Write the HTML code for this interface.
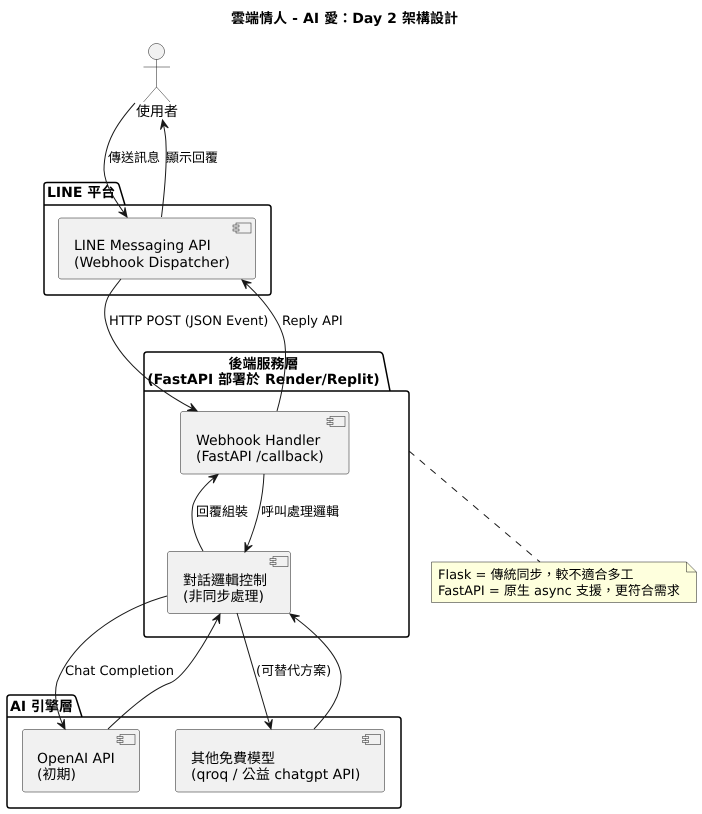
<!DOCTYPE html>
<html><head><meta charset="utf-8">
<style>
html,body{margin:0;padding:0;background:#fff;width:702px;height:814px;overflow:hidden}
svg{display:block}
text{font-family:"DejaVu Sans","WenQuanYi Zen Hei","Noto Sans CJK TC",sans-serif;fill:#000;text-rendering:geometricPrecision}
.b{font-weight:bold;font-size:14px}
.c{font-size:14px}
.l{font-size:13px}
.pk{fill:none;stroke:#000;stroke-width:1.5}
.cp{fill:#F1F1F1;stroke:#181818;stroke-width:.5}
.ic{fill:#F1F1F1;stroke:#181818;stroke-width:.5}
.e{fill:none;stroke:#181818;stroke-width:1;marker-end:url(#a)}
</style></head><body>
<svg width="702" height="814" viewBox="0 0 702 814" xmlns="http://www.w3.org/2000/svg">
<defs>
<marker id="a" markerUnits="userSpaceOnUse" markerWidth="14" markerHeight="12" refX="11" refY="6" orient="auto">
<path d="M11,6 L2,2 L6,6 L2,10 Z" fill="#181818" stroke="#181818" stroke-width="1"/>
</marker>
<g id="ic">
<rect x="3" y="0" width="15" height="10" class="ic"/>
<rect x="0" y="2" width="6" height="2" class="ic"/>
<rect x="0" y="6" width="6" height="2" class="ic"/>
</g>
</defs>

<text x="231" y="23" class="b" textLength="227">雲端情人 - AI 愛：Day 2 架構設計</text>

<!-- actor -->
<circle cx="156.5" cy="51.5" r="8" fill="#F1F1F1" stroke="#181818" stroke-width=".5"/>
<path d="M156.5,59.5V87M143.500,67H170M156.500,87L143.500,102M156.500,87L170,102" fill="none" stroke="#181818" stroke-width=".5"/>
<text x="136" y="116" class="c">使用者</text>

<!-- packages -->
<path class="pk" d="M44,205V185Q44,182.500 47,182.500H115Q118,182.500 119,185L125,205M44,205H268Q271,205 271,208V292Q271,295 268,295H47Q44,295 44,292V205Z"/>
<text x="47" y="197" class="b">LINE 平台</text>

<path class="pk" d="M144,391V355Q144,352 147,352H379Q382,352 383,355L390,391M144,391H406Q409,391 409,394V634Q409,637 406,637H147Q144,637 144,634V391Z"/>
<text x="263.500" y="368.500" text-anchor="middle" class="b">後端服務層</text>
<text x="263.500" y="384" text-anchor="middle" class="b">(FastAPI 部署於 Render/Replit)</text>

<path class="pk" d="M7,717V698Q7,695 10,695H72Q75,695 76,698L82,717M7,717H398Q401,717 401,720V805Q401,808 398,808H10Q7,808 7,805V717Z"/>
<text x="10" y="711" class="b">AI 引擎層</text>

<!-- components -->
<rect class="cp" x="58.500" y="218" width="197" height="61" rx="2.500"/>
<use href="#ic" x="233" y="223"/>
<text x="74" y="250" class="c">LINE Messaging API</text>
<text x="74" y="267" class="c">(Webhook Dispatcher)</text>

<rect class="cp" x="180.500" y="411.500" width="168.500" height="62.500" rx="2.500"/>
<use href="#ic" x="327" y="416.500"/>
<text x="196" y="445" class="c">Webhook Handler</text>
<text x="196" y="461" class="c">(FastAPI /callback)</text>

<rect class="cp" x="167.500" y="551.500" width="123" height="62" rx="2.500"/>
<use href="#ic" x="270" y="556.500"/>
<text x="183" y="585" class="c">對話邏輯控制</text>
<text x="183" y="601" class="c">(非同步處理)</text>

<rect class="cp" x="22.500" y="729.500" width="117" height="62.500" rx="2.500"/>
<use href="#ic" x="117" y="734.500"/>
<text x="37" y="763" class="c">OpenAI API</text>
<text x="37" y="779" class="c">(初期)</text>

<rect class="cp" x="175.500" y="729.500" width="209" height="62.500" rx="2.500"/>
<use href="#ic" x="362.500" y="734.500"/>
<text x="191" y="763" class="c">其他免費模型</text>
<text x="191" y="779" class="c">(qroq / 公益 chatgpt API)</text>

<!-- note -->
<path d="M431.500,562H686.500L696.500,572V602.500H431.500Z" fill="#FEFFDD" stroke="#181818" stroke-width=".5"/>
<path d="M686.500,562V572H696.500" fill="none" stroke="#181818" stroke-width=".5"/>
<text x="438" y="579" class="l">Flask = 傳統同步，較不適合多工</text>
<text x="438" y="595" class="l">FastAPI = 原生 async 支援，更符合需求</text>
<path d="M409,451L540,562" fill="none" stroke="#181818" stroke-width="1" stroke-dasharray="7,7"/>

<!-- edges -->
<path class="e" d="M135,103C118,122 104,142 104,170C105,187 117,203 127,217"/>
<path class="e" d="M161.500,217C165,188 167,165 166,145C166,135 164,127 162.500,120"/>
<path class="e" d="M121,279C110,293 103,300 105,318C112,358 160,392 197,411"/>
<path class="e" d="M277,411C283,390 287,365 285,345C283,325 265,300 242,280"/>
<path class="e" d="M264,474C263,500 256,527 245,552"/>
<path class="e" d="M203,551C194,535 190,519 193,505C197,493 207,483 218,474.500"/>
<path class="e" d="M167,596C130,606 75,635 57,682C53,697 58,716 65,729"/>
<path class="e" d="M108,729C125,713 150,690 170,683C185,677 207,640 220,614"/>
<path class="e" d="M237,613L271,729"/>
<path class="e" d="M314,729C330,712 342,695 341,675C339,655 315,632 290,614"/>

<!-- labels -->
<text x="108" y="162" class="l">傳送訊息</text>
<text x="166" y="162" class="l">顯示回覆</text>
<text x="109" y="325" class="l">HTTP POST (JSON Event)</text>
<text x="282" y="325" class="l">Reply API</text>
<text x="196" y="516" class="l">回覆組裝</text>
<text x="261" y="516" class="l">呼叫處理邏輯</text>
<text x="65" y="675" class="l">Chat Completion</text>
<text x="256" y="675" class="l">(可替代方案)</text>
</svg>
</body></html>
